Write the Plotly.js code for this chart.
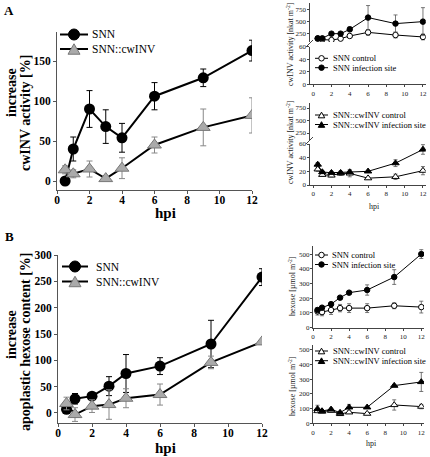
<!DOCTYPE html>
<html><head><meta charset="utf-8">
<script src="https://cdn.plot.ly/plotly-3.0.1.min.js"></script>
<style>html,body{margin:0;padding:0;background:#fff}#chart{width:430px;height:457px}</style>
</head><body><div id="chart"></div>
<script>
// ---------- data ----------
const hpi = [0.5, 1, 2, 3, 4, 6, 9, 12];
const xTicks = [0, 2, 4, 6, 8, 10, 12];

// Panel A main: increase cwINV activity [%]
const aSNN = [0, 40, 90, 68, 54, 106, 129, 163];
const aSNNerr = [3, 15, 23, 21, 18, 17, 11, 13];
const aINV = [14, 9, 15, 3, 16, 45, 67, 82];
const aINVerr = [5, 5, 10, 2, 13, 10, 23, 22];

// Panel B main: increase apoplastic hexose content [%]
const bSNN = [7, 27, 32, 51, 75, 89, 131, 258];
const bSNNerr = [5, 10, 6, 18, 36, 16, 45, 16];
const bINV = [18, -3, 13, 16, 28, 35, 96, 135];
const bINVerr = [12, 13, 12, 28, 18, 20, 12, 3];

// Small panel 1: SNN cwINV activity [nkat m-2]
const p1Ctrl = [140, 120, 110, 140, 195, 270, 215, 175];
const p1CtrlErr = [15, 15, 15, 15, 20, 60, 60, 60];
const p1Inf = [146, 146, 243, 243, 333, 577, 452, 493];
const p1InfErr = [15, 15, 20, 20, 50, 250, 180, 290];

// Small panel 2: SNN::cwINV cwINV activity [nkat m-2]
const p2Ctrl = [23, 15, 14, 17, 17, 10, 12, 21];
const p2CtrlErr = [3, 2, 2, 3, 5, 1, 4, 6];
const p2Inf = [30, 19, 18, 18, 19, 20, 32, 52];
const p2InfErr = [3, 2, 2, 2, 3, 1, 5, 7];

// Small panel 3: SNN hexose [umol m-2]
const p3Ctrl = [111, 106, 120, 133, 133, 133, 149, 140];
const p3CtrlErr = [25, 25, 30, 25, 30, 30, 20, 40];
const p3Inf = [120, 136, 160, 204, 238, 256, 344, 500];
const p3InfErr = [10, 10, 8, 8, 8, 35, 50, 30];

// Small panel 4: SNN::cwINV hexose [umol m-2]
const p4Ctrl = [84, 80, 86, 64, 75, 66, 125, 114];
const p4CtrlErr = [8, 8, 8, 8, 8, 5, 35, 15];
const p4Inf = [98, 84, 95, 73, 109, 109, 257, 282];
const p4InfErr = [25, 10, 8, 8, 20, 5, 8, 65];

// series names
const mainNames = ['SNN', 'SNN::cwINV'];
const snnNames = ['SNN control', 'SNN infection site'];
const invNames = ['SNN::cwINV control', 'SNN::cwINV infection site'];

// ---------- helpers ----------
const W = 430, H = 457;
const SERIF = 'Liberation Serif, Times New Roman, serif';
const dx = (a, b) => [a / W, b / W];
const dy = (top, bottom) => [1 - bottom / H, 1 - top / H];
const px = v => v / W, py = v => 1 - v / H;

const INV_FILL = '#aaaaaa', INV_EDGE = '#777777';

function mainTrace(y, err, isINV, xa, ya, name) {
  return {
    x: hpi, y: y, name: name, xaxis: xa, yaxis: ya, showlegend: false,
    mode: 'lines+markers', type: 'scatter',
    line: {color: '#000', width: 2},
    marker: isINV ? {symbol: 'triangle-up', size: 12, color: INV_FILL, line: {color: INV_EDGE, width: 1}}
                  : {symbol: 'circle', size: 11, color: '#000'},
    error_y: {type: 'data', array: err, visible: true, color: isINV ? '#888' : '#000', thickness: 1, width: 3}
  };
}
function smallTrace(y, err, sym, open, xa, ya, name) {
  return {
    x: hpi, y: y, name: name, xaxis: xa, yaxis: ya, showlegend: false,
    mode: 'lines+markers', type: 'scatter',
    line: {color: '#000', width: 1},
    marker: {symbol: sym, size: sym === 'circle' ? 5.5 : 6.5, color: open ? '#fff' : '#000', line: {color: '#000', width: 1}},
    error_y: {type: 'data', array: err, visible: true, color: '#555', thickness: 0.8, width: 2}
  };
}
// empty trace that only makes a (broken-axis) subplot exist
function emptySub(xa, ya) {
  return {x: [], y: [], xaxis: xa, yaxis: ya, type: 'scatter', mode: 'markers', showlegend: false, hoverinfo: 'skip'};
}

const data = [
  mainTrace(aSNN, aSNNerr, false, 'x', 'y', mainNames[0]),
  mainTrace(aINV, aINVerr, true, 'x', 'y', mainNames[1]),
  mainTrace(bSNN, bSNNerr, false, 'x2', 'y2', mainNames[0]),
  mainTrace(bINV, bINVerr, true, 'x2', 'y2', mainNames[1]),
  emptySub('x3', 'y3'),
  smallTrace(p1Ctrl, p1CtrlErr, 'circle', true, 'x3', 'y4', snnNames[0]),
  smallTrace(p1Inf, p1InfErr, 'circle', false, 'x3', 'y4', snnNames[1]),
  emptySub('x4', 'y6'),
  smallTrace(p2Ctrl, p2CtrlErr, 'triangle-up', true, 'x4', 'y5', invNames[0]),
  smallTrace(p2Inf, p2InfErr, 'triangle-up', false, 'x4', 'y5', invNames[1]),
  smallTrace(p3Ctrl, p3CtrlErr, 'circle', true, 'x5', 'y7', snnNames[0]),
  smallTrace(p3Inf, p3InfErr, 'circle', false, 'x5', 'y7', snnNames[1]),
  smallTrace(p4Ctrl, p4CtrlErr, 'triangle-up', true, 'x6', 'y8', invNames[0]),
  smallTrace(p4Inf, p4InfErr, 'triangle-up', false, 'x6', 'y8', invNames[1])
];

const mainTick = {family: SERIF, size: 11.5, color: '#000', weight: 'bold'};
const smallTick = {family: SERIF, size: 7, color: '#222'};
function axBase(dom, anchor, range, tv, isMain, isX) {
  const a = {domain: dom, anchor: anchor, range: range, tickvals: tv, showline: true,
    linecolor: isMain ? '#555' : '#444', linewidth: 1, ticks: 'outside', ticklen: isMain ? 3 : 2,
    tickcolor: isMain ? '#555' : '#444', showgrid: false, zeroline: false,
    tickfont: isMain ? mainTick : smallTick, fixedrange: true};
  if (isMain && isX) a.ticklabelstandoff = -4;
  if (!isMain && !isX) a.ticklabelstandoff = -1;
  return a;
}

const shapes = [
  // axis break marks
  {type: 'line', xref: 'paper', yref: 'paper', x0: px(306), y0: py(47), x1: px(313), y1: py(40), line: {color: '#444', width: 1}},
  {type: 'line', xref: 'paper', yref: 'paper', x0: px(306), y0: py(144), x1: px(313), y1: py(137), line: {color: '#444', width: 1}}
];
const annotations = [];
function ann(text, x, y, size, opts) {
  annotations.push(Object.assign({text: text, x: px(x), y: py(y), xref: 'paper', yref: 'paper', showarrow: false,
    xanchor: 'center', yanchor: 'middle',
    font: {family: SERIF, size: size, color: '#000'}}, opts || {}));
}
function legendEntry(cx, cy, half, textX, sym, size, fill, edge, label, fsize, lw) {
  shapes.push({type: 'line', xref: 'paper', yref: 'paper', x0: px(cx - half), x1: px(cx + half), y0: py(cy), y1: py(cy),
    line: {color: '#000', width: lw}});
  if (sym === 'circle') {
    shapes.push({type: 'circle', xref: 'paper', yref: 'paper', x0: px(cx - size / 2), x1: px(cx + size / 2),
      y0: py(cy + size / 2), y1: py(cy - size / 2), fillcolor: fill, line: {color: edge, width: 1}});
  } else {
    const h = size * 0.87;
    shapes.push({type: 'path', xref: 'paper', yref: 'paper', fillcolor: fill, line: {color: edge, width: 1},
      path: `M ${px(cx - size / 2)},${py(cy + h / 2)} L ${px(cx + size / 2)},${py(cy + h / 2)} L ${px(cx)},${py(cy - h / 2)} Z`});
  }
  ann(label, textX, cy, fsize, {xanchor: 'left', yanchor: 'middle'});
}

// main legends
legendEntry(74, 34.5, 14, 90, 'circle', 11, '#000', '#000', mainNames[0], 11.5, 2);
legendEntry(74, 49, 14, 90, 'triangle', 12, INV_FILL, INV_EDGE, mainNames[1], 11.5, 2);
legendEntry(75, 266.5, 13, 94, 'circle', 11, '#000', '#000', mainNames[0], 11.5, 2);
legendEntry(75, 281.5, 13, 94, 'triangle', 12, INV_FILL, INV_EDGE, mainNames[1], 11.5, 2);
// small legends
legendEntry(321.5, 58.3, 6.5, 331, 'circle', 5.5, '#fff', '#000', snnNames[0], 8.5, 1);
legendEntry(321.5, 67.7, 6.5, 331, 'circle', 5.5, '#000', '#000', snnNames[1], 8.5, 1);
legendEntry(321.5, 115, 6.5, 331, 'triangle', 6.5, '#fff', '#000', invNames[0], 8.5, 1);
legendEntry(321.5, 124.5, 6.5, 331, 'triangle', 6.5, '#000', '#000', invNames[1], 8.5, 1);
legendEntry(321.5, 255, 6.5, 330, 'circle', 5.5, '#fff', '#000', snnNames[0], 8.5, 1);
legendEntry(321.5, 264.5, 6.5, 330, 'circle', 5.5, '#000', '#000', snnNames[1], 8.5, 1);
legendEntry(321.5, 351, 6.5, 331, 'triangle', 6.5, '#fff', '#000', invNames[0], 8.5, 1);
legendEntry(321.5, 360.7, 6.5, 331, 'triangle', 6.5, '#000', '#000', invNames[1], 8.5, 1);

const smallTitleFont = {family: SERIF, size: 8, color: '#222'};
// panel letters
ann('<b>A</b>', 9, 10, 13);
ann('<b>B</b>', 9, 236, 13);
// main axis titles
ann('<b>increase</b>', 11, 93, 14, {textangle: -90});
ann('<b>cwINV activity [%]</b>', 25, 113, 14, {textangle: -90});
ann('<b>hpi</b>', 165, 213, 15);
ann('<b>increase</b>', 11, 335, 14, {textangle: -90});
ann('<b>apoplastic hexose content [%]</b>', 25, 342, 14, {textangle: -90});
ann('<b>hpi</b>', 165, 448, 15);
// small axis titles
ann('cwINV activity [nkat m<sup>-2</sup>]', 290, 44, 8, {textangle: -90, font: smallTitleFont});
ann('cwINV activity [nkat m<sup>-2</sup>]', 290, 142, 8, {textangle: -90, font: smallTitleFont});
ann('hexose [µmol m<sup>-2</sup>]', 292, 286, 8, {textangle: -90, font: smallTitleFont});
ann('hexose [µmol m<sup>-2</sup>]', 292, 386, 8, {textangle: -90, font: smallTitleFont});
ann('hpi', 374, 206, 8, {font: smallTitleFont});
ann('hpi', 371, 443, 8, {font: smallTitleFont});

const smallXdom = dx(309.5, 425.7);
const smallX2dom = dx(313, 424);
const layout = {
  width: W, height: H, margin: {l: 0, r: 0, t: 0, b: 0},
  paper_bgcolor: '#fff', plot_bgcolor: 'rgba(0,0,0,0)', showlegend: false,
  xaxis: axBase(dx(57, 252), 'y', [0, 12], xTicks, true, true),
  yaxis: axBase(dy(32, 190), 'x', [-11.25, 186.25], [0, 50, 100, 150], true, false),
  xaxis2: axBase(dx(58, 262), 'y2', [0, 12], xTicks, true, true),
  yaxis2: axBase(dy(255, 423), 'x2', [-19, 300], [0, 50, 100, 150, 200, 250, 300], true, false),
  xaxis3: axBase(smallXdom, 'y3', [-0.4, 12.3], xTicks, false, true),
  yaxis3: axBase(dy(46.7, 84.3), 'x3', [0, 60], [0, 20, 40, 60], false, false),
  yaxis4: axBase(dy(3, 42), 'x3', [70, 880], [250, 500, 750], false, false),
  xaxis4: axBase(smallXdom, 'y5', [-0.4, 12.3], xTicks, false, true),
  yaxis5: axBase(dy(144, 185), 'x4', [0, 60], [0, 20, 40, 60], false, false),
  yaxis6: axBase(dy(103, 140), 'x4', [110, 850], [250, 500, 750], false, false),
  xaxis5: axBase(smallX2dom, 'y7', [0, 12.3], xTicks, false, true),
  yaxis7: axBase(dy(246, 327.7), 'x5', [0, 555], [0, 100, 200, 300, 400, 500], false, false),
  xaxis6: axBase(smallX2dom, 'y8', [0, 12.3], xTicks, false, true),
  yaxis8: axBase(dy(345, 423.3), 'x6', [0, 534], [0, 100, 200, 300, 400, 500], false, false),
  shapes: shapes,
  annotations: annotations
};

Plotly.newPlot('chart', data, layout, {staticPlot: true, displayModeBar: false});
</script></body></html>
